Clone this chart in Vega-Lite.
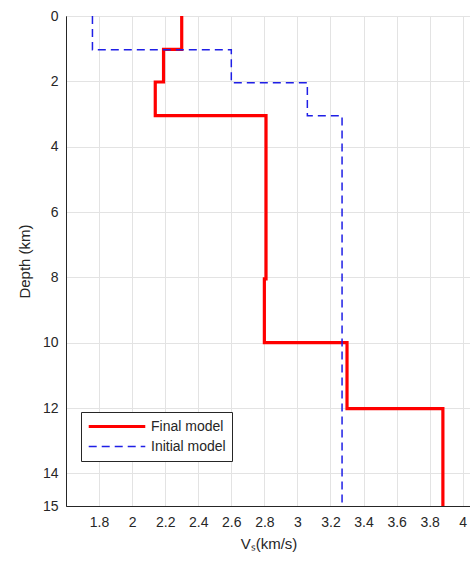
{
  "$schema": "https://vega.github.io/schema/vega-lite/v6.json",
  "autosize": "none",
  "width": 405,
  "height": 490,
  "padding": {"left": 66, "top": 16, "right": 0, "bottom": 60},
  "background": "white",
  "config": {
    "font": "Liberation Sans",
    "view": {"stroke": "#262626", "strokeWidth": 1},
    "axis": {
      "domainColor": "#262626",
      "tickColor": "#262626",
      "labelColor": "#262626",
      "titleColor": "#262626",
      "labelFontSize": 14,
      "titleFontSize": 15,
      "titleFontWeight": "normal",
      "gridColor": "#e3e3e3",
      "gridWidth": 1
    }
  },
  "data": {
    "values": [
      {"model": "Final model", "i": 0, "vs": 2.30, "depth": 0},
      {"model": "Final model", "i": 1, "vs": 2.30, "depth": 1.02},
      {"model": "Final model", "i": 2, "vs": 2.19, "depth": 1.02},
      {"model": "Final model", "i": 3, "vs": 2.19, "depth": 2.02},
      {"model": "Final model", "i": 4, "vs": 2.14, "depth": 2.02},
      {"model": "Final model", "i": 5, "vs": 2.14, "depth": 3.05},
      {"model": "Final model", "i": 6, "vs": 2.81, "depth": 3.05},
      {"model": "Final model", "i": 7, "vs": 2.81, "depth": 8.05},
      {"model": "Final model", "i": 8, "vs": 2.80, "depth": 8.05},
      {"model": "Final model", "i": 9, "vs": 2.80, "depth": 10.0},
      {"model": "Final model", "i": 10, "vs": 3.30, "depth": 10.0},
      {"model": "Final model", "i": 11, "vs": 3.30, "depth": 12.02},
      {"model": "Final model", "i": 12, "vs": 3.88, "depth": 12.02},
      {"model": "Final model", "i": 13, "vs": 3.88, "depth": 15},
      {"model": "Initial model", "i": 0, "vs": 1.76, "depth": 0},
      {"model": "Initial model", "i": 1, "vs": 1.76, "depth": 1.03},
      {"model": "Initial model", "i": 2, "vs": 2.60, "depth": 1.03},
      {"model": "Initial model", "i": 3, "vs": 2.60, "depth": 2.04},
      {"model": "Initial model", "i": 4, "vs": 3.06, "depth": 2.04},
      {"model": "Initial model", "i": 5, "vs": 3.06, "depth": 3.05},
      {"model": "Initial model", "i": 6, "vs": 3.27, "depth": 3.05},
      {"model": "Initial model", "i": 7, "vs": 3.27, "depth": 15}
    ]
  },
  "mark": {"type": "line", "clip": true},
  "encoding": {
    "x": {
      "field": "vs",
      "type": "quantitative",
      "scale": {"domain": [1.6, 4.05], "nice": false, "zero": false},
      "axis": {
        "values": [1.8, 2.0, 2.2, 2.4, 2.6, 2.8, 3.0, 3.2, 3.4, 3.6, 3.8, 4.0],
        "format": "~g",
        "ticks": false,
        "labelPadding": 9,
        "title": "Vₛ(km/s)",
        "titlePadding": 7
      }
    },
    "y": {
      "field": "depth",
      "type": "quantitative",
      "scale": {"domain": [0, 15], "reverse": true, "nice": false},
      "axis": {
        "values": [0, 2, 4, 6, 8, 10, 12, 14, 15],
        "ticks": false,
        "labelPadding": 8,
        "title": "Depth (km)",
        "titlePadding": 10
      }
    },
    "order": {"field": "i", "type": "quantitative"},
    "color": {
      "field": "model",
      "type": "nominal",
      "scale": {"domain": ["Final model", "Initial model"], "range": ["#ff0000", "#1f1fe6"]},
      "legend": {
        "title": null,
        "orient": "none",
        "legendX": 15,
        "legendY": 396,
        "strokeColor": "#262626",
        "fillColor": "white",
        "padding": 6,
        "labelFontSize": 14,
        "labelColor": "#262626",
        "symbolType": "stroke",
        "symbolSize": 3200,
        "clipHeight": 17,
        "rowPadding": 3
      }
    },
    "strokeDash": {
      "field": "model",
      "type": "nominal",
      "scale": {"domain": ["Final model", "Initial model"], "range": [[1, 0], [8, 5]]},
      "legend": null
    },
    "strokeWidth": {
      "field": "model",
      "type": "nominal",
      "scale": {"domain": ["Final model", "Initial model"], "range": [3.2, 1.5]},
      "legend": null
    }
  }
}
